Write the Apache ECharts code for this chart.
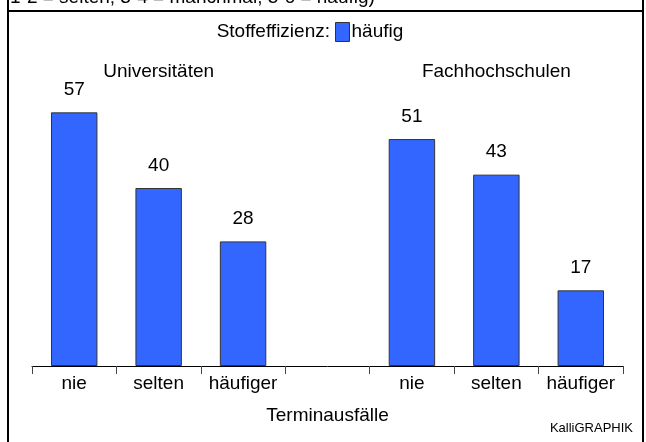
<!DOCTYPE html>
<html><head><meta charset="utf-8">
<script src="https://cdn.jsdelivr.net/npm/echarts@6/dist/echarts.min.js"></script>
<style>html,body{margin:0;padding:0;background:#fff}#c{width:646px;height:442px}</style>
</head><body><div id="c"></div>
<script>
const categories = ['nie', 'selten', 'häufiger', '', 'nie', 'selten', 'häufiger'];
const values = [57, 40, 28, null, 51, 43, 17];
const seriesName = 'häufig';
const legendTitle = 'Stoffeffizienz:';
const groupLabels = ['Universitäten', 'Fachhochschulen'];
const groupCenters = [1, 5];
const axisTitle = 'Terminausfälle';
const topNote = '1-2 = selten; 3-4 = manchmal; 5-6 = häufig)';
const credit = 'KalliGRAPHIK';

const FONT = '"Liberation Sans", Arial, sans-serif';
const FS = 19;
const chart = echarts.init(document.getElementById('c'), null, {renderer: 'canvas'});
const option = {
  animation: false,
  backgroundColor: '#fff',
  textStyle: {fontFamily: FONT},
  grid: {left: 32, right: 23, top: 99, bottom: 76, containLabel: false},
  legend: {
    data: [{name: seriesName, icon: 'rect'}], left: 335, top: 22, padding: 0, itemWidth: 14, itemHeight: 19, itemGap: 4,
    textStyle: {fontSize: FS, color: '#000', fontFamily: FONT, padding: [0, 0, 0, -3]},
    itemStyle: {borderColor: '#333', borderWidth: 1}
  },
  xAxis: {
    type: 'category', data: categories,
    axisLine: {lineStyle: {color: '#000', width: 1}},
    axisTick: {show: true, alignWithLabel: false, length: 8, lineStyle: {color: '#444'}},
    axisLabel: {fontSize: FS, color: '#000', margin: 8, fontFamily: FONT, interval: 0},
    name: axisTitle, nameLocation: 'middle', nameGap: 40,
    nameTextStyle: {fontSize: FS, color: '#000', fontFamily: FONT}
  },
  yAxis: {type: 'value', min: 0, max: 60, show: false, splitLine: {show: false}},
  series: [{
    name: seriesName, type: 'bar', data: values, barCategoryGap: '45%',
    itemStyle: {color: '#3366FF', borderColor: '#333', borderWidth: 1},
    label: {show: true, position: 'top', distance: 13, fontSize: FS, color: '#000', fontFamily: FONT}
  }],
  graphic: []
};
chart.setOption(option);

const g = [];
g.push({type: 'text', left: 10, top: -12, style: {text: topNote, fontSize: 19, fill: '#000', fontFamily: FONT}});
g.push({type: 'line', shape: {x1: 8, y1: 11, x2: 643, y2: 11}, style: {stroke: '#000', lineWidth: 2}});
g.push({type: 'line', shape: {x1: 8, y1: 0, x2: 8, y2: 442}, style: {stroke: '#000', lineWidth: 2}});
g.push({type: 'line', shape: {x1: 643, y1: 0, x2: 643, y2: 442}, style: {stroke: '#000', lineWidth: 2}});
g.push({type: 'text', x: 330, y: 32, style: {text: legendTitle, fontSize: FS, fill: '#000', fontFamily: FONT, align: 'right', verticalAlign: 'middle'}});
groupLabels.forEach((t, i) => {
  const px = chart.convertToPixel({xAxisIndex: 0}, groupCenters[i]);
  g.push({type: 'text', x: px, y: 72, style: {text: t, fontSize: FS, fill: '#000', fontFamily: FONT, align: 'center', verticalAlign: 'middle'}});
});
g.push({type: 'text', x: 633, y: 428, style: {text: credit, fontSize: 13, fill: '#000', fontFamily: FONT, align: 'right', verticalAlign: 'middle'}});
chart.setOption({graphic: g});
</script></body></html>
